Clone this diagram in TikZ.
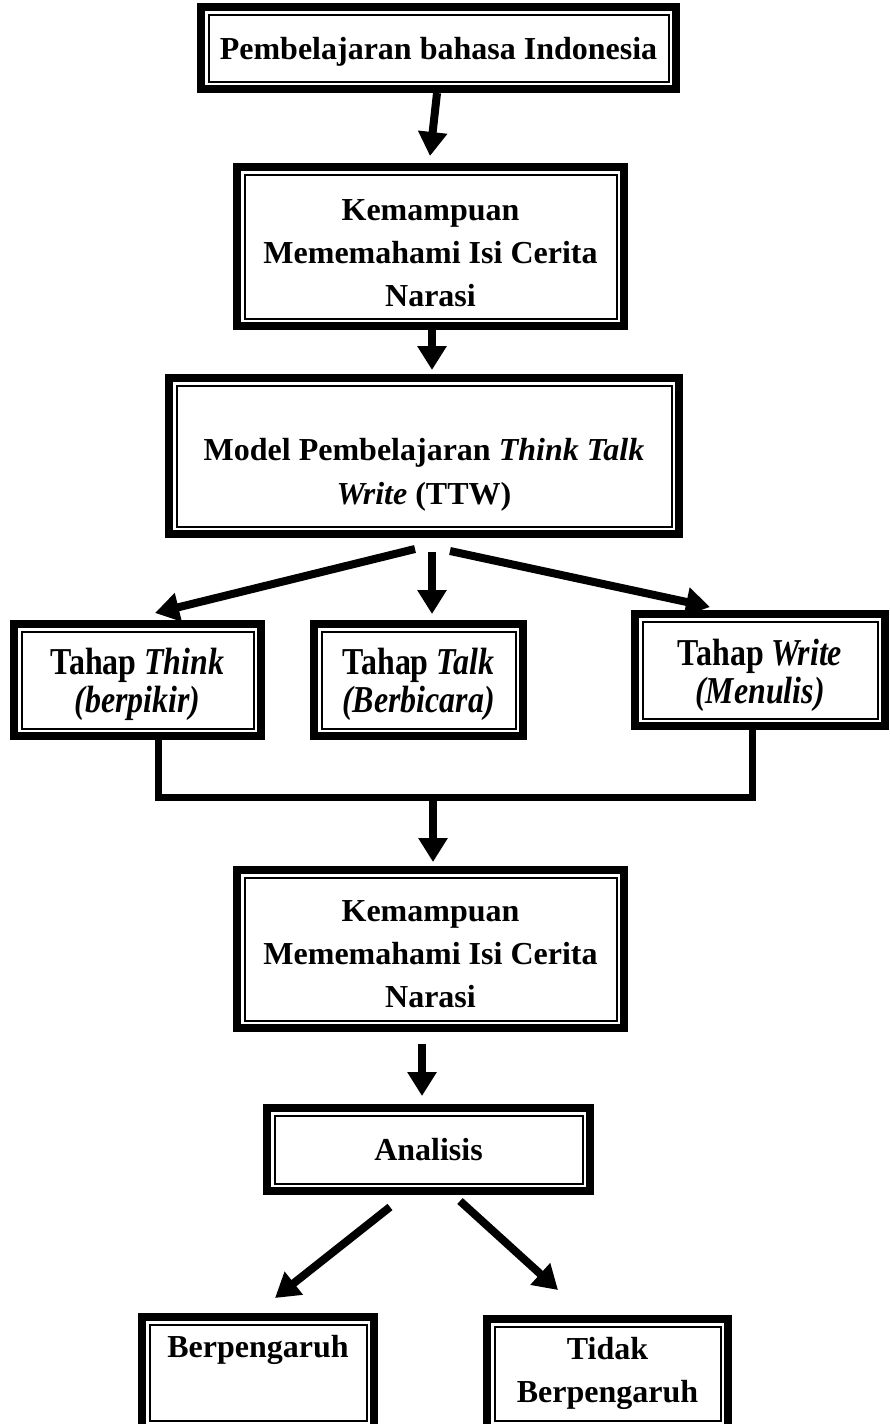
\documentclass[tikz,border=0pt]{standalone}
\usepackage{fontspec}
\setmainfont{Liberation Serif}
\newfontfamily\narrowfont[FakeStretch=0.84]{Liberation Serif}
\usetikzlibrary{arrows.meta}
\newcommand\shiftdown[2]{\raisebox{-#1}[\height][\depth]{\begin{tabular}{@{}c@{}}#2\end{tabular}}}
\tikzset{
  dbox/.style={draw, line width=8pt, inner sep=0pt, align=center,
    font=\bfseries\fontsize{32}{43}\selectfont,
    path picture={\draw[line width=2pt]
      ([shift={(7.5pt,-7.5pt)}]path picture bounding box.north west) rectangle
      ([shift={(-7.5pt,7.5pt)}]path picture bounding box.south east);}},
  nbox/.style={dbox, font=\narrowfont\bfseries\fontsize{38}{38}\selectfont},
  arr/.style={line width=8pt, -{Triangle[width=28pt,length=24pt]}},
  conn/.style={line width=7pt}
}
\begin{document}
\begin{tikzpicture}[x=1pt,y=-1pt]
\useasboundingbox (0,0) rectangle (889,1424);
\node[dbox, minimum width=475pt, minimum height=82pt] (b1) at (438.5,48) {\shiftdown{3pt}{Pembelajaran bahasa Indonesia}};
\node[dbox, minimum width=387pt, minimum height=159pt] (b2) at (430.5,246.5) {\shiftdown{8pt}{Kemampuan\\Mememahami Isi Cerita\\Narasi}};
\node[dbox, minimum width=510pt, minimum height=156pt, font=\bfseries\fontsize{32}{44}\selectfont] (b3) at (424,456) {\shiftdown{18pt}{Model Pembelajaran \textit{Think Talk}\\\textit{Write} (TTW)}};
\node[nbox, minimum width=247pt, minimum height=112pt] (b4) at (137.5,680) {\shiftdown{6pt}{Tahap \textit{Think}\\\textit{(berpikir)}}};
\node[nbox, minimum width=209pt, minimum height=112pt] (b5) at (418.5,680) {\shiftdown{6pt}{Tahap \textit{Talk}\\\textit{(Berbicara)}}};
\node[nbox, minimum width=250pt, minimum height=112pt] (b6) at (760,670) {\shiftdown{7pt}{Tahap \textit{Write}\\\textit{(Menulis)}}};
\node[dbox, minimum width=387pt, minimum height=158pt] (b7) at (430.5,949) {\shiftdown{7pt}{Kemampuan\\Mememahami Isi Cerita\\Narasi}};
\node[dbox, minimum width=323pt, minimum height=83pt] (b8) at (428.5,1149.5) {Analisis};
\node[dbox, minimum width=232pt, minimum height=111pt] (b9) at (258,1372.5) {\shiftdown{-2pt}{Berpengaruh\\\mbox{}}};
\node[dbox, minimum width=241pt, minimum height=109pt] (b10) at (607.5,1373.5) {Tidak\\Berpengaruh};
\coordinate (j) at (433,797);
\draw[arr] ([xshift=-1.5pt]b1.south) -- ([xshift=-0.5pt,yshift=7pt]b2.north);
\draw[arr] ([xshift=1.5pt]b2.south) -- ([xshift=8pt,yshift=4pt]b3.north);
\draw[arr] ([xshift=-9pt,yshift=-11pt]b3.south) -- ([xshift=17.5pt,yshift=7pt]b4.north);
\draw[arr] ([xshift=8pt,yshift=-14pt]b3.south) -- ([xshift=13.5pt,yshift=6pt]b5.north);
\draw[arr] ([xshift=26pt,yshift=-13pt]b3.south) -- ([xshift=-50pt,yshift=3pt]b6.north);
\draw[conn] ([xshift=20.5pt]b4.south) |- (j) -| ([xshift=-8pt]b6.south);
\draw[arr] (j) -- ([xshift=2.5pt,yshift=4pt]b7.north);
\draw[arr] ([xshift=-8.5pt,yshift=-12pt]b7.south) -- ([xshift=-6.5pt,yshift=8pt]b8.north);
\draw[arr] ([xshift=-38.5pt,yshift=-12pt]b8.south) -- ([xshift=17pt,yshift=15pt]b9.north);
\draw[arr] ([xshift=31.5pt,yshift=-6pt]b8.south) -- ([xshift=-49.5pt,yshift=25pt]b10.north);
\end{tikzpicture}
\end{document}
